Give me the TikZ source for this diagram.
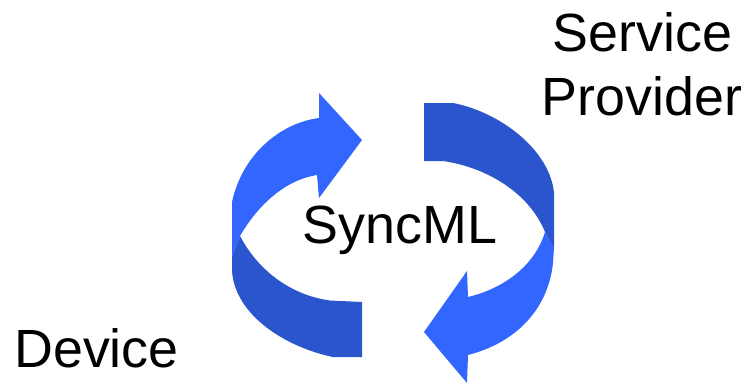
\documentclass[tikz,border=0pt]{standalone}
\usepackage{fontspec}
\setmainfont{Liberation Sans}
\definecolor{lightblue}{HTML}{3366FF}
\definecolor{darkblue}{HTML}{2B55CC}
\tikzset{
  lbl/.style={anchor=base,inner sep=0pt,font=\fontsize{53.8}{64}\selectfont,text=black},
  lightarc/.style={fill=lightblue,draw=none},
  darkarc/.style={fill=darkblue,draw=none}
}
\begin{document}
\begin{tikzpicture}[x=1pt,y=-1pt]
\useasboundingbox (0,0) rectangle (746,383);
% left arrow: light head
\fill[lightarc] (232,257) -- (232,202)
  .. controls (242,155) and (280,123) .. (319,118)
  -- (319,93) -- (362,140) -- (319,198) -- (317,175)
  .. controls (285,180) and (258,205) .. (240,236) -- cycle;
% left arrow: dark tail
\fill[darkarc] (232,257) -- (240,236)
  .. controls (258,270) and (290,295) .. (330,300.5) -- (362,302) -- (362,357) -- (333,357)
  .. controls (285,347) and (235,315) .. (232,271) -- cycle;
% right arrow: light head
\fill[lightarc] (554,248) -- (553,263)
  .. controls (548,310) and (515,343) .. (468,355)
  -- (467,383) -- (424,332) -- (467,271) -- (468,297)
  .. controls (505,288) and (535,265) .. (545,232) -- cycle;
% right arrow: dark tail
\fill[darkarc] (424,103) -- (453,103)
  .. controls (500,112) and (550,150) .. (554,193)
  -- (554,248) -- (545,232)
  .. controls (530,195) and (490,168) .. (443,161) -- (424,161) -- cycle;
\node[lbl] (syncml) at (400,243) {SyncML};
\node[lbl] (service) at (642.5,51) {Service};
\node[lbl] (provider) at (642,115) {Provider};
\node[lbl] (device) at (96.5,367) {Device};
\end{tikzpicture}
\end{document}
